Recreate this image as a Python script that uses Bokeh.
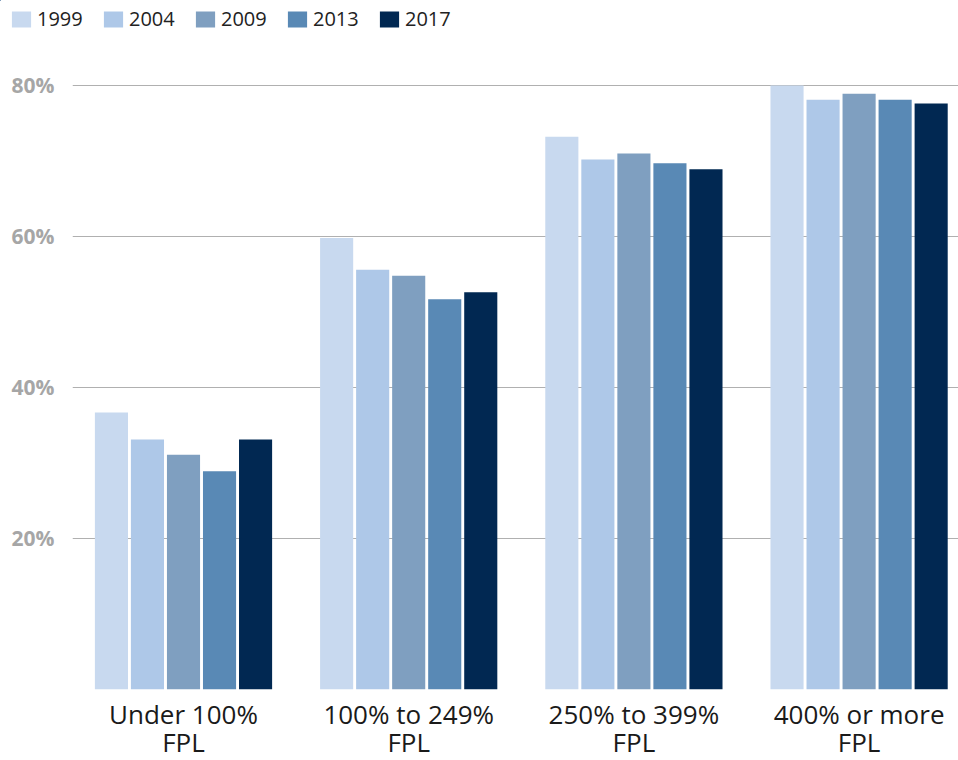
from bokeh.plotting import figure
from bokeh.layouts import column, row
from bokeh.models import (ColumnDataSource, Range1d, FixedTicker, Legend,
                          LegendItem)
from bokeh.embed import file_html
from bokeh.resources import INLINE

# Share of people in each income band (percent of the federal poverty level)
categories = ["Under 100%\nFPL", "100% to 249%\nFPL",
              "250% to 399%\nFPL", "400% or more\nFPL"]
years = ["1999", "2004", "2009", "2013", "2017"]
v1999 = [36.7, 59.8, 73.2, 80.0]
v2004 = [33.1, 55.6, 70.2, 78.1]
v2009 = [31.1, 54.8, 71.0, 78.9]
v2013 = [28.9, 51.7, 69.7, 78.1]
v2017 = [33.1, 52.6, 68.9, 77.6]
y_ticks = [20, 40, 60, 80]

series = [v1999, v2004, v2009, v2013, v2017]
colors = ["#c8d9ef", "#aec8e8", "#7f9fc0", "#5989b5", "#012852"]
offsets = [-0.32, -0.16, 0.0, 0.16, 0.32]
bar_width = 0.147

FONT = "Open Sans"

sources = [ColumnDataSource(dict(x=[i + off for i in range(len(categories))],
                                 top=vals))
           for vals, off in zip(series, offsets)]

# ---- main bar chart ----
p = figure(frame_width=886, frame_height=645, output_backend="svg",
           toolbar_location=None,
           x_range=Range1d(-0.4929, 3.4414), y_range=Range1d(0, 85.43),
           min_border_left=72, min_border_right=0, min_border_top=0,
           min_border_bottom=0)

for src, col in zip(sources, colors):
    p.vbar(x="x", top="top", bottom=0, width=bar_width, source=src,
           fill_color=col, line_color=None)

# y axis: labels only
p.yaxis.ticker = FixedTicker(ticks=y_ticks)
p.yaxis.major_label_overrides = {t: f"{t}%" for t in y_ticks}
p.yaxis.axis_line_color = None
p.yaxis.major_tick_line_color = None
p.yaxis.minor_tick_line_color = None
p.yaxis.major_label_text_font = FONT
p.yaxis.major_label_text_font_style = "bold"
p.yaxis.major_label_text_font_size = "21px"
p.yaxis.major_label_text_color = "#a6a6a6"
p.yaxis.major_label_standoff = 12

# x axis: category names on two lines
p.xaxis.ticker = FixedTicker(ticks=list(range(len(categories))))
p.xaxis.major_label_overrides = {i: c for i, c in enumerate(categories)}
p.xaxis.axis_line_color = None
p.xaxis.major_tick_line_color = None
p.xaxis.minor_tick_line_color = None
p.xaxis.major_label_text_font = FONT
p.xaxis.major_label_text_font_size = "26px"
p.xaxis.major_label_text_line_height = 0.78
p.xaxis.major_label_text_color = "#1a1a1a"
p.xaxis.major_label_standoff = 0

p.xgrid.grid_line_color = None
p.ygrid.ticker = FixedTicker(ticks=y_ticks)
p.ygrid.grid_line_color = "#b0b0b0"
p.ygrid.grid_line_width = 1
p.outline_line_color = None

# ---- legend strip across the top ----
# both ranges lie far away from the data, so only the legend entries show
lg = figure(width=958, height=44, output_backend="svg", toolbar_location=None,
            x_range=Range1d(1000, 1001), y_range=Range1d(-1000, -999),
            x_axis_location=None, y_axis_location=None,
            min_border_left=0, min_border_right=0, min_border_top=0,
            min_border_bottom=0)
lg.grid.visible = False
lg.outline_line_color = None

items = []
for yr, src, col in zip(years, sources, colors):
    r = lg.vbar(x="x", top="top", bottom=0, width=bar_width, source=src,
                fill_color=col, line_color=None)
    items.append(LegendItem(label=yr, renderers=[r]))

legend = Legend(items=items, orientation="horizontal", location=(9, 12),
                glyph_width=24, glyph_height=20, label_standoff=4,
                label_width=50, spacing=14, padding=0, margin=0,
                border_line_color=None, background_fill_alpha=0,
                label_text_font=FONT, label_text_font_size="20px",
                label_text_color="#222222")
lg.add_layout(legend, "center")

layout = column(row(lg), p, spacing=0)
open("out.html", "w").write(file_html(layout, INLINE))
